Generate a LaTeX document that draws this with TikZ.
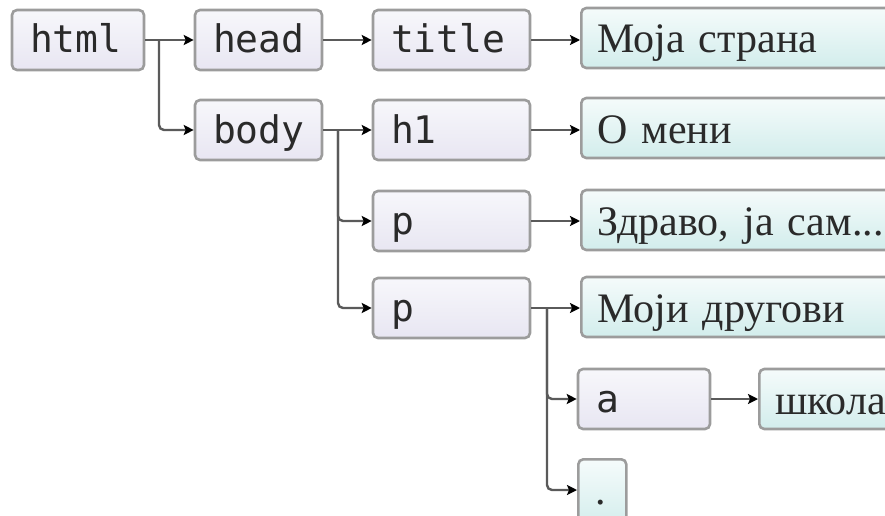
\documentclass[tikz,border=0pt]{standalone}
\usepackage{fontspec}
\setmonofont{DejaVu Sans Mono}
\newfontfamily\cyr{Liberation Serif}
\usetikzlibrary{arrows.meta}
\definecolor{bordc}{HTML}{9C9C9C}
\definecolor{linec}{HTML}{5A5A5A}
\definecolor{tagtop}{HTML}{F7F7FB}
\definecolor{tagbot}{HTML}{E8E6F2}
\definecolor{txttop}{HTML}{F5FBFB}
\definecolor{txtbot}{HTML}{D2EDEC}
\definecolor{ink}{HTML}{2A2A2A}
\tikzset{
  base/.style={draw=bordc, line width=2.6pt, rounded corners=5pt, minimum height=60pt,
    inner xsep=18pt, inner ysep=0pt, align=left, text=ink},
  tag/.style={base, top color=tagtop, bottom color=tagbot, text height=30pt, text depth=4pt,
    font=\ttfamily\fontsize{38}{40}\selectfont},
  txt/.style={base, top color=txttop, bottom color=txtbot, inner xsep=16pt,
    text height=32pt, text depth=2pt,
    font=\cyr\fontsize{42}{46}\selectfont},
  conn/.style={draw=linec, line width=2.4pt, rounded corners=5pt,
    -{Stealth[length=10pt,width=10pt,inset=2pt,fill=black,color=black]}},
}
\begin{document}
\begin{tikzpicture}[x=1pt,y=-1pt]
\useasboundingbox (0,0) rectangle (885,516);
\clip (0,0) rectangle (885,516);
% tag nodes
\node[tag, text width=96pt] (html) at (78,40) {html};
\node[tag, text width=91pt] (head) at (258.5,40) {head};
\node[tag, text width=121pt] (title) at (451.5,40) {title};
\node[tag, text width=91pt] (body) at (258.5,130) {body};
\node[tag, text width=121pt] (h1) at (451.5,130) {h1};
\node[tag, text width=121pt] (p1) at (451.5,221) {p};
\node[tag, text width=121pt] (p2) at (451.5,308) {p};
\node[tag, text width=96pt] (a) at (644,399) {a};
% text nodes
\node[txt, text width=360pt, anchor=west] (t1) at (580,38) {Моја страна};
\node[txt, text width=360pt, anchor=west] (t2) at (580,128) {О мени};
\node[txt, text width=360pt, anchor=west] (t3) at (580,220) {Здраво, ја сам...};
\node[txt, text width=360pt, anchor=west] (t4) at (580,307) {Моји другови};
\node[txt, text width=300pt, anchor=west] (t5) at (758,399) {школа};
\node[txt, text width=14pt, inner xsep=17pt, minimum height=70pt, text height=20pt, text depth=0pt, anchor=north west] (dot) at (577,458) {.};
% coordinates for branches
\coordinate (bh) at (159,40);
\coordinate (bb) at (338,130);
\coordinate (bp) at (547,308);
% connectors
\draw[conn] (html.east) -- (head.west);
\draw[conn] (bh) |- (body.west);
\draw[conn] (head.east) -- (title.west);
\draw[conn] (title.east) -- (t1.west |- title.east);
\draw[conn] (body.east) -- (h1.west);
\draw[conn] (bb) |- (p1.west);
\draw[conn] (bb) |- (p2.west);
\draw[conn] (h1.east) -- (t2.west |- h1.east);
\draw[conn] (p1.east) -- (t3.west |- p1.east);
\draw[conn] (p2.east) -- (t4.west |- p2.east);
\draw[conn] (bp) |- (a.west);
\draw[conn] (bp) |- (dot.west |- 0,490);
\draw[conn] (a.east) -- (t5.west |- a.east);
\end{tikzpicture}
\end{document}
